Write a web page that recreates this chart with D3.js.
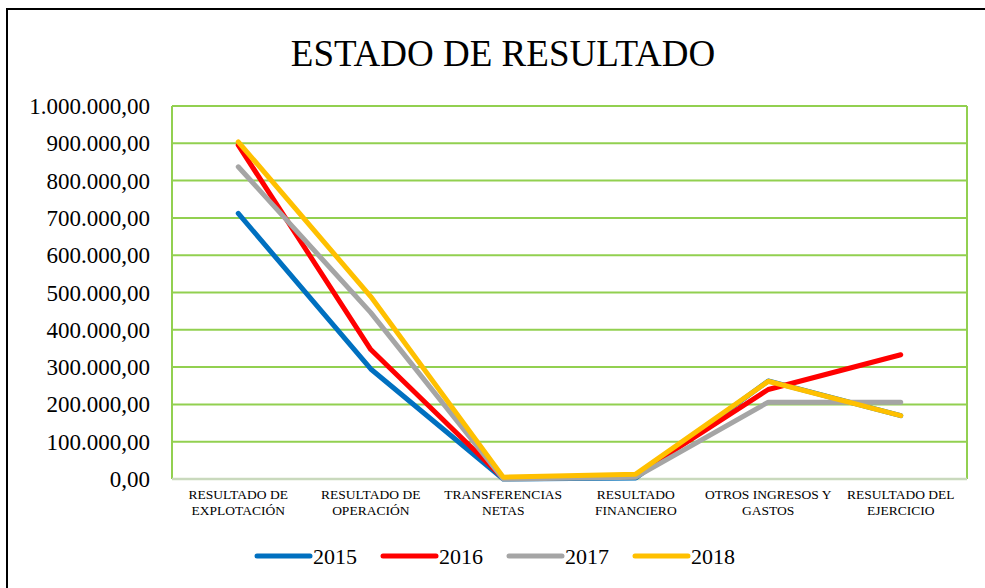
<!DOCTYPE html>
<html lang="es">
<head>
    <meta charset="UTF-8">
    <title>Estado de Resultado</title>
    <script src="https://d3js.org/d3.v7.min.js"></script>
    <style>
        body { margin: 0; background: #fff; }
        .grid line { stroke: #92d050; stroke-width: 2px; }
        .serie { fill: none; stroke-width: 5px; stroke-linecap: round; stroke-linejoin: round; }
    </style>
</head>
<body>
<div id="chart"></div>
<script>
    // categorias y valores
    const categorias = [
        ["RESULTADO DE", "EXPLOTACIÓN"],
        ["RESULTADO DE", "OPERACIÓN"],
        ["TRANSFERENCIAS", "NETAS"],
        ["RESULTADO", "FINANCIERO"],
        ["OTROS INGRESOS Y", "GASTOS"],
        ["RESULTADO DEL", "EJERCICIO"]
    ];
    const anios = ["2015", "2016", "2017", "2018"];
    const colores = ["#0070c0", "#ff0000", "#a5a5a5", "#ffc000"];

    const v2015 = [712000, 295000, 0, 3000, 263000, 170000];
    const v2016 = [895000, 347000, 2000, 10000, 240000, 333000];
    const v2017 = [837000, 446000, 0, 5000, 206000, 206000];
    const v2018 = [904000, 489000, 5000, 13000, 262000, 170000];
    const series = [v2015, v2016, v2017, v2018];

    const yTicks = [0, 100000, 200000, 300000, 400000, 500000, 600000, 700000, 800000, 900000, 1000000];

    const width = 985, height = 588;
    const margin = { top: 106, right: 18, bottom: 109, left: 172 };
    const plotW = width - margin.left - margin.right;
    const plotH = height - margin.top - margin.bottom;
    const serif = "'Liberation Serif', 'Times New Roman', Times, 'DejaVu Serif', serif";

    const svg = d3.select("#chart").append("svg")
        .attr("width", width)
        .attr("height", height)
        .style("font-family", serif);

    // marco exterior (se sale del area por la derecha y abajo)
    svg.append("rect")
        .attr("x", 7).attr("y", 9)
        .attr("width", 990).attr("height", 600)
        .attr("fill", "none")
        .attr("stroke", "#000")
        .attr("stroke-width", 2);

    svg.append("text")
        .attr("x", 503).attr("y", 66)
        .attr("text-anchor", "middle")
        .style("font-size", "37px")
        .text("ESTADO DE RESULTADO");

    const g = svg.append("g")
        .attr("transform", "translate(" + margin.left + "," + margin.top + ")");

    const x = d3.scaleBand()
        .domain(d3.range(categorias.length))
        .range([0, plotW]);

    const y = d3.scaleLinear()
        .domain([0, 1000000])
        .range([plotH, 0]);

    const fmt = d => {
        const s = d3.format(",.2f")(d);
        return s.replace(/,/g, "#").replace(/\./g, ",").replace(/#/g, ".");
    };

    // grilla horizontal
    g.append("g").attr("class", "grid")
        .selectAll("line")
        .data(yTicks.filter(d => d > 0))
        .enter().append("line")
        .attr("x1", 0).attr("x2", plotW)
        .attr("y1", d => y(d)).attr("y2", d => y(d));

    // bordes verticales del area
    g.append("line")
        .attr("x1", 0).attr("x2", 0).attr("y1", 0).attr("y2", plotH)
        .attr("stroke", "#92d050").attr("stroke-width", 2);
    g.append("line")
        .attr("x1", plotW).attr("x2", plotW).attr("y1", 0).attr("y2", plotH)
        .attr("stroke", "#92d050").attr("stroke-width", 2);

    // eje x
    g.append("line")
        .attr("x1", 0).attr("x2", plotW).attr("y1", plotH).attr("y2", plotH)
        .attr("stroke", "#c9d9bd").attr("stroke-width", 2.5);

    // etiquetas eje y
    g.append("g")
        .selectAll("text")
        .data(yTicks)
        .enter().append("text")
        .attr("x", -22)
        .attr("y", d => y(d))
        .attr("dy", "0.35em")
        .attr("text-anchor", "end")
        .style("font-size", "23px")
        .text(fmt);

    // etiquetas eje x
    const xl = g.append("g")
        .selectAll("text")
        .data(categorias)
        .enter().append("text")
        .attr("text-anchor", "middle")
        .style("font-size", "13.5px")
        .attr("transform", (d, i) => "translate(" + (x(i) + x.bandwidth() / 2) + "," + (plotH + 20) + ")");
    xl.selectAll("tspan")
        .data(d => d)
        .enter().append("tspan")
        .attr("x", 0)
        .attr("dy", (d, i) => i === 0 ? 0 : 16)
        .text(d => d);

    const line = d3.line()
        .x((d, i) => x(i) + x.bandwidth() / 2)
        .y(d => y(d));

    g.selectAll(".serie")
        .data(series)
        .enter().append("path")
        .attr("class", "serie")
        .attr("stroke", (d, i) => colores[i])
        .attr("d", line);

    // leyenda
    const legend = svg.append("g")
        .selectAll("g")
        .data(anios)
        .enter().append("g")
        .attr("transform", (d, i) => "translate(" + (257 + i * 126) + ",556)");
    legend.append("line")
        .attr("x1", 0).attr("x2", 53).attr("y1", 0).attr("y2", 0)
        .attr("stroke", (d, i) => colores[i])
        .attr("stroke-width", 5)
        .attr("stroke-linecap", "round");
    legend.append("text")
        .attr("x", 56).attr("y", 0).attr("dy", "0.35em")
        .style("font-size", "22px")
        .text(d => d);
</script>
</body>
</html>
